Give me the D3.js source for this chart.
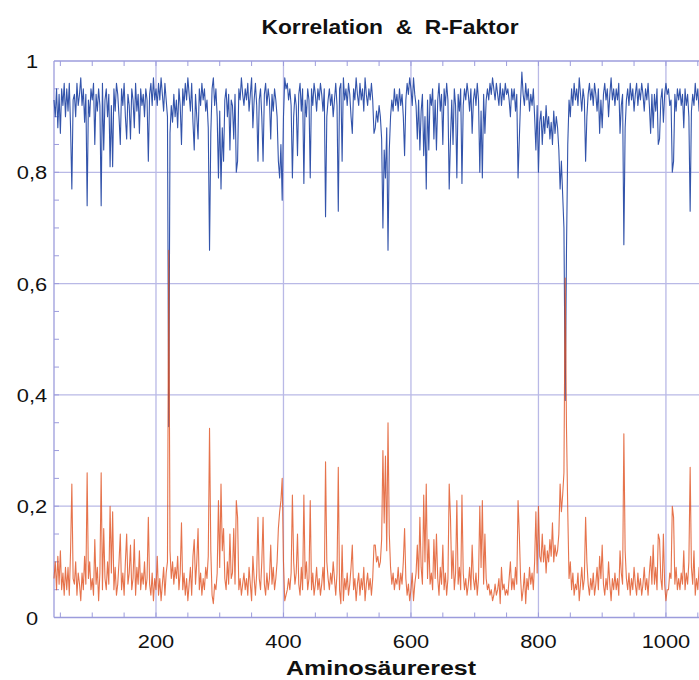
<!DOCTYPE html>
<html>
<head>
<meta charset="utf-8">
<script src="https://cdn.jsdelivr.net/npm/d3@7"></script>
<style>
  html, body { margin: 0; padding: 0; background: #fff; }
  svg { display: block; }
  text { font-family: "Liberation Sans", Arial, Helvetica, sans-serif; fill: #111; }
</style>
</head>
<body>
<svg id="chart" width="699" height="680"></svg>
<script>
// ---- data (residue numbers 40..1060, step 2) ----
const residueStart = 40, residueEnd = 1060, residueStep = 2;

const korrelation = [
  0.93,0.90,0.95,0.88,0.94,0.87,0.95,0.92,0.96,0.90,
  0.95,0.91,0.96,0.88,0.77,0.93,0.94,0.90,0.96,0.92,
  0.94,0.97,0.92,0.95,0.89,0.94,0.74,0.93,0.90,0.95,
  0.93,0.96,0.85,0.94,0.91,0.95,0.92,0.74,0.96,0.84,
  0.93,0.95,0.90,0.94,0.81,0.92,0.81,0.95,0.91,0.96,
  0.94,0.90,0.85,0.95,0.92,0.96,0.90,0.86,0.94,0.92,
  0.86,0.95,0.93,0.88,0.96,0.91,0.94,0.87,0.95,0.92,
  0.94,0.90,0.95,0.93,0.82,0.94,0.96,0.92,0.97,0.93,
  0.95,0.92,0.96,0.93,0.97,0.94,0.91,0.96,0.93,0.90,
  0.343,0.87,0.92,0.89,0.94,0.90,0.93,0.88,0.95,0.92,
  0.85,0.95,0.92,0.96,0.93,0.97,0.94,0.91,0.96,0.89,
  0.84,0.94,0.90,0.86,0.95,0.92,0.96,0.93,0.95,0.91,
  0.93,0.88,0.66,0.87,0.95,0.97,0.92,0.95,0.90,0.79,
  0.91,0.77,0.88,0.82,0.93,0.95,0.90,0.94,0.84,0.93,
  0.92,0.86,0.94,0.80,0.82,0.95,0.93,0.97,0.94,0.92,
  0.95,0.93,0.96,0.91,0.94,0.97,0.88,0.93,0.96,0.92,
  0.82,0.93,0.95,0.90,0.82,0.94,0.96,0.92,0.95,0.93,
  0.86,0.94,0.91,0.95,0.93,0.90,0.82,0.79,0.85,0.75,
  0.90,0.97,0.95,0.96,0.93,0.95,0.92,0.79,0.90,0.94,
  0.92,0.83,0.94,0.96,0.91,0.95,0.78,0.93,0.90,0.95,
  0.93,0.79,0.95,0.92,0.96,0.94,0.91,0.95,0.93,0.96,
  0.94,0.91,0.95,0.72,0.90,0.93,0.95,0.92,0.94,0.90,
  0.93,0.96,0.92,0.73,0.95,0.96,0.82,0.97,0.93,0.95,
  0.92,0.96,0.94,0.90,0.87,0.95,0.93,0.97,0.94,0.92,
  0.96,0.93,0.95,0.91,0.97,0.94,0.92,0.95,0.93,0.96,
  0.93,0.87,0.88,0.91,0.89,0.92,0.90,0.86,0.70,0.84,
  0.79,0.88,0.66,0.84,0.90,0.93,0.91,0.95,0.92,0.94,
  0.91,0.95,0.92,0.94,0.90,0.83,0.93,0.96,0.94,0.97,
  0.95,0.92,0.97,0.94,0.92,0.86,0.93,0.84,0.91,0.94,
  0.83,0.90,0.77,0.93,0.84,0.94,0.92,0.95,0.86,0.93,
  0.84,0.93,0.96,0.91,0.94,0.85,0.95,0.92,0.96,0.93,
  0.77,0.86,0.93,0.85,0.95,0.92,0.79,0.94,0.91,0.95,
  0.78,0.92,0.95,0.93,0.96,0.94,0.91,0.95,0.87,0.93,
  0.95,0.92,0.96,0.93,0.80,0.91,0.79,0.94,0.87,0.93,
  0.95,0.93,0.96,0.94,0.97,0.95,0.93,0.96,0.94,0.92,
  0.96,0.92,0.95,0.93,0.96,0.94,0.95,0.93,0.90,0.95,
  0.93,0.95,0.91,0.94,0.79,0.86,0.93,0.98,0.94,0.92,
  0.96,0.93,0.95,0.91,0.94,0.92,0.95,0.90,0.84,0.92,
  0.80,0.89,0.91,0.85,0.90,0.87,0.92,0.88,0.90,0.86,
  0.89,0.85,0.91,0.87,0.90,0.88,0.84,0.77,0.82,0.76,
  0.70,0.39,0.66,0.85,0.93,0.90,0.95,0.92,0.96,0.93,
  0.95,0.92,0.97,0.94,0.91,0.95,0.93,0.82,0.90,0.94,
  0.96,0.93,0.95,0.92,0.96,0.94,0.91,0.95,0.87,0.93,
  0.88,0.94,0.96,0.93,0.95,0.90,0.94,0.97,0.93,0.95,
  0.92,0.95,0.93,0.96,0.87,0.92,0.94,0.67,0.88,0.93,
  0.95,0.92,0.96,0.93,0.95,0.91,0.94,0.96,0.92,0.95,
  0.93,0.96,0.94,0.91,0.95,0.93,0.96,0.92,0.87,0.94,
  0.88,0.94,0.91,0.95,0.85,0.86,0.93,0.95,0.89,0.94,
  0.96,0.94,0.95,0.92,0.93,0.80,0.82,0.94,0.91,0.95,
  0.93,0.95,0.92,0.94,0.88,0.95,0.92,0.94,0.90,0.73,
  0.91,0.94,0.92,0.96,0.93,0.95,0.91,0.94,0.92,0.95,0.93
];

const rFaktor = [
  0.07,0.10,0.05,0.11,0.06,0.12,0.05,0.08,0.04,0.09,
  0.05,0.09,0.04,0.12,0.24,0.07,0.06,0.10,0.04,0.08,
  0.06,0.03,0.08,0.05,0.11,0.06,0.26,0.07,0.10,0.05,
  0.07,0.04,0.14,0.06,0.09,0.03,0.08,0.26,0.05,0.16,
  0.07,0.05,0.10,0.06,0.20,0.08,0.19,0.05,0.09,0.04,
  0.06,0.10,0.15,0.05,0.08,0.04,0.10,0.15,0.06,0.08,
  0.13,0.05,0.07,0.14,0.04,0.09,0.06,0.12,0.05,0.08,
  0.06,0.10,0.05,0.07,0.18,0.06,0.04,0.08,0.03,0.07,
  0.05,0.11,0.04,0.07,0.03,0.06,0.09,0.04,0.08,0.10,
  0.66,0.12,0.07,0.10,0.06,0.09,0.07,0.11,0.05,0.08,
  0.17,0.05,0.08,0.04,0.07,0.03,0.06,0.09,0.04,0.11,
  0.14,0.06,0.10,0.16,0.05,0.08,0.04,0.07,0.05,0.09,
  0.07,0.11,0.34,0.12,0.04,0.025,0.06,0.05,0.08,0.21,
  0.09,0.24,0.12,0.16,0.07,0.05,0.10,0.06,0.15,0.07,
  0.08,0.16,0.06,0.21,0.18,0.05,0.07,0.04,0.06,0.08,
  0.05,0.07,0.04,0.09,0.06,0.03,0.11,0.07,0.04,0.08,
  0.18,0.07,0.05,0.10,0.18,0.06,0.04,0.08,0.05,0.07,
  0.13,0.06,0.09,0.05,0.07,0.10,0.16,0.19,0.21,0.25,
  0.10,0.03,0.04,0.05,0.07,0.05,0.08,0.22,0.10,0.06,
  0.08,0.15,0.06,0.04,0.09,0.05,0.22,0.07,0.10,0.05,
  0.07,0.21,0.05,0.08,0.04,0.06,0.09,0.05,0.07,0.04,
  0.06,0.09,0.05,0.28,0.10,0.07,0.05,0.08,0.06,0.10,
  0.07,0.04,0.08,0.27,0.05,0.025,0.13,0.03,0.07,0.05,
  0.08,0.04,0.06,0.09,0.13,0.05,0.07,0.03,0.06,0.08,
  0.04,0.07,0.05,0.09,0.03,0.06,0.08,0.05,0.07,0.04,
  0.07,0.13,0.13,0.10,0.11,0.09,0.10,0.14,0.30,0.17,
  0.29,0.12,0.35,0.15,0.09,0.06,0.08,0.05,0.07,0.06,
  0.09,0.05,0.08,0.06,0.10,0.16,0.07,0.04,0.06,0.03,
  0.05,0.08,0.03,0.06,0.08,0.13,0.07,0.18,0.09,0.06,
  0.22,0.10,0.24,0.07,0.14,0.06,0.08,0.05,0.14,0.07,
  0.15,0.07,0.04,0.09,0.06,0.13,0.05,0.08,0.04,0.07,
  0.24,0.18,0.07,0.12,0.05,0.08,0.21,0.06,0.09,0.05,
  0.22,0.08,0.05,0.07,0.04,0.06,0.09,0.05,0.13,0.07,
  0.05,0.08,0.04,0.07,0.20,0.09,0.21,0.06,0.15,0.07,
  0.05,0.06,0.04,0.05,0.03,0.04,0.06,0.04,0.05,0.07,
  0.025,0.09,0.05,0.06,0.04,0.05,0.04,0.07,0.10,0.05,
  0.07,0.05,0.09,0.06,0.21,0.15,0.07,0.03,0.05,0.08,
  0.025,0.07,0.05,0.09,0.06,0.08,0.05,0.10,0.19,0.08,
  0.20,0.11,0.10,0.15,0.10,0.13,0.08,0.12,0.10,0.14,
  0.11,0.17,0.10,0.13,0.11,0.12,0.15,0.24,0.19,0.22,
  0.26,0.61,0.34,0.19,0.07,0.10,0.05,0.08,0.04,0.06,
  0.05,0.08,0.03,0.06,0.09,0.05,0.07,0.18,0.10,0.06,
  0.04,0.07,0.05,0.08,0.04,0.06,0.09,0.05,0.11,0.07,
  0.13,0.06,0.04,0.07,0.05,0.10,0.06,0.03,0.07,0.05,
  0.08,0.05,0.07,0.04,0.12,0.08,0.06,0.33,0.12,0.07,
  0.05,0.08,0.04,0.07,0.05,0.09,0.06,0.04,0.08,0.05,
  0.07,0.04,0.06,0.09,0.05,0.07,0.04,0.08,0.11,0.06,
  0.13,0.06,0.09,0.05,0.15,0.14,0.07,0.05,0.15,0.06,
  0.03,0.05,0.05,0.08,0.07,0.20,0.18,0.06,0.09,0.05,
  0.07,0.05,0.08,0.06,0.12,0.05,0.08,0.06,0.10,0.27,
  0.09,0.06,0.12,0.04,0.07,0.05,0.09,0.06,0.08,0.05,0.07
];

const xMajorTicks = [200, 400, 600, 800, 1000];
const yMajorTicks = [0, 0.2, 0.4, 0.6, 0.8, 1];
const titleText = "Korrelation  &  R-Faktor";
const xTitleText = "Aminosäurerest";

// ---- build ----
const residues = d3.range(residueStart, residueEnd + 1, residueStep);
const n = Math.min(residues.length, korrelation.length, rFaktor.length);
const blueData = d3.range(n).map(i => [residues[i], korrelation[i]]);
const redData = d3.range(n).map(i => [residues[i], rFaktor[i]]);

const svg = d3.select("#chart");
const pLeft = 54, pRight = 708, pTop = 61, pBottom = 617.5;

const x = d3.scaleLinear().domain([40, 1066]).range([pLeft, pRight]);
const y = d3.scaleLinear().domain([0, 1]).range([pBottom, pTop]);

const gridColor = "#b9b9e6";
const frameColor = "#9c9cdc";

// gridlines
svg.append("g").selectAll("line").data(xMajorTicks).join("line")
  .attr("x1", d => x(d)).attr("x2", d => x(d))
  .attr("y1", pTop).attr("y2", pBottom)
  .attr("stroke", gridColor).attr("stroke-width", 1.3);
svg.append("g").selectAll("line").data(yMajorTicks.filter(d => d > 0 && d < 1)).join("line")
  .attr("x1", pLeft).attr("x2", pRight)
  .attr("y1", d => y(d)).attr("y2", d => y(d))
  .attr("stroke", gridColor).attr("stroke-width", 1.3);

// frame
const frame = svg.append("g").attr("stroke", frameColor).attr("stroke-width", 1.3).attr("fill", "none");
frame.append("line").attr("x1", pLeft).attr("x2", pLeft).attr("y1", pTop).attr("y2", pBottom);
frame.append("line").attr("x1", pLeft).attr("x2", pRight).attr("y1", pBottom).attr("y2", pBottom);
frame.append("line").attr("x1", pLeft).attr("x2", pRight).attr("y1", pTop).attr("y2", pTop);
frame.append("line").attr("x1", pRight).attr("x2", pRight).attr("y1", pTop).attr("y2", pBottom);

// minor ticks (inside)
const xMinor = d3.range(50, 1066, 50);
const yMinor = d3.range(1, 20).map(k => k * 0.05);
const tickG = svg.append("g").attr("stroke", frameColor).attr("stroke-width", 1);
tickG.append("g").selectAll("line").data(xMinor).join("line")
  .attr("x1", d => x(d)).attr("x2", d => x(d)).attr("y1", pBottom).attr("y2", pBottom - 5);
tickG.append("g").selectAll("line").data(xMinor).join("line")
  .attr("x1", d => x(d)).attr("x2", d => x(d)).attr("y1", pTop).attr("y2", pTop + 5);
tickG.append("g").selectAll("line").data(yMinor).join("line")
  .attr("x1", pLeft).attr("x2", pLeft + 5).attr("y1", d => y(d)).attr("y2", d => y(d));

// lines
const lineGen = d3.line().x(d => x(d[0])).y(d => y(d[1]));
svg.append("path").datum(blueData)
  .attr("d", lineGen).attr("fill", "none")
  .attr("stroke", "#3354ab").attr("stroke-width", 1.1).attr("stroke-linejoin", "round");
svg.append("path").datum(redData)
  .attr("d", lineGen).attr("fill", "none")
  .attr("stroke", "#e0501f").attr("stroke-width", 1.1).attr("stroke-opacity", 0.8)
  .attr("stroke-linejoin", "round");

// tick labels
const fmtY = d => (d === 0 ? "0" : d === 1 ? "1" : String(d).replace(".", ","));
svg.append("g").selectAll("text").data(yMajorTicks).join("text")
  .attr("transform", d => `translate(32,${y(d) + 7}) scale(1.15,1)`)
  .attr("text-anchor", "middle")
  .attr("font-size", 19)
  .text(fmtY);
svg.append("g").selectAll("text").data(xMajorTicks).join("text")
  .attr("transform", d => `translate(${x(d)},648) scale(1.15,1)`)
  .attr("text-anchor", "middle")
  .attr("font-size", 19)
  .text(d => String(d));

// titles
svg.append("text")
  .attr("x", 390).attr("y", 34)
  .attr("text-anchor", "middle")
  .attr("font-size", 21).attr("font-weight", "bold")
  .style("white-space", "pre")
  .attr("textLength", 257).attr("lengthAdjust", "spacingAndGlyphs")
  .text(titleText);
svg.append("text")
  .attr("x", 381).attr("y", 675)
  .attr("text-anchor", "middle")
  .attr("font-size", 20).attr("font-weight", "bold")
  .attr("textLength", 190).attr("lengthAdjust", "spacingAndGlyphs")
  .text(xTitleText);
</script>
</body>
</html>
